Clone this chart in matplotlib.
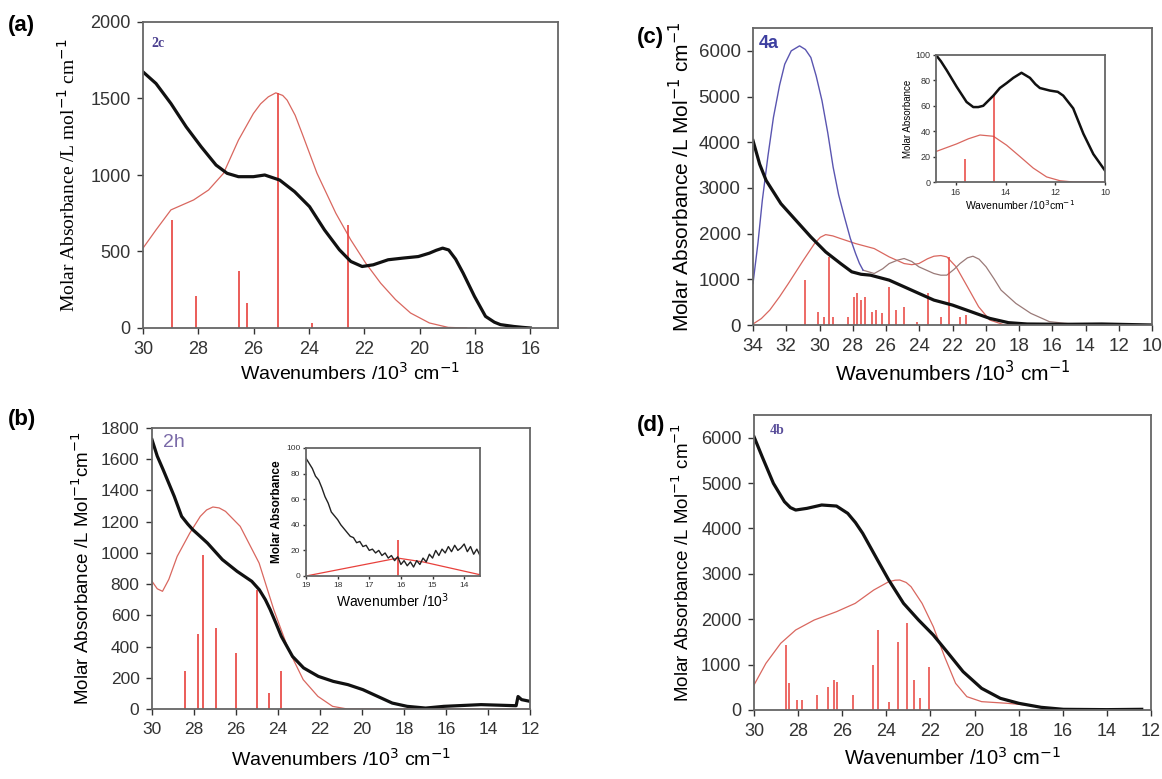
import matplotlib
matplotlib.use("Agg")
import matplotlib.pyplot as plt

plt.rcParams["font.family"] = ["Liberation Sans", "DejaVu Sans"]

W, H = 1162, 779

# ---- panel (a): complex 2c ----
a_black_x = [30, 29.53, 28.99, 28.44, 27.9, 27.36, 26.96, 26.55, 26.01, 25.6, 25.06, 24.52,
             23.98, 23.44, 22.9, 22.49, 22.08, 21.68, 21.14, 20.6, 20.05, 19.65, 19.4,
             19.17, 18.95, 18.7, 18.43, 18.02, 17.62, 17.3, 17.08, 16.6, 16.27, 16.0]
a_black_y = [1674, 1598, 1467, 1315, 1185, 1065, 1011, 989, 989, 1000, 967, 891, 793, 641,
             511, 435, 402, 413, 446, 457, 467, 489, 508, 522, 510, 450, 359, 207, 76,
             38, 22, 10, 4, 0]
a_red_x = [30, 29.53, 28.99, 28.17, 27.63, 27.09, 26.55, 26.01, 25.75, 25.47, 25.2, 24.95,
           24.79, 24.5, 24.25, 23.71, 23.03, 22.49, 21.95, 21.41, 20.87, 20.33, 19.65,
           18.97, 18.3]
a_red_y = [522, 641, 772, 837, 902, 1011, 1228, 1402, 1465, 1511, 1537, 1520, 1489, 1390,
           1272, 1011, 750, 576, 424, 293, 185, 98, 33, 4, 0]
a_stick_x = [28.96, 28.08, 26.52, 26.25, 25.13, 23.9, 22.6]
a_stick_y = [707, 207, 370, 163, 1537, 30, 674]

# ---- panel (b): complex 2h ----
b_black_x = [30, 29.75, 29.47, 28.94, 28.59, 28.3, 28.06, 27.7, 27.36, 26.65, 25.95, 25.25,
             24.89, 24.6, 24.37, 24.1, 23.84, 23.55, 23.31, 22.78, 22.08, 21.37, 20.67,
             19.96, 19.26, 18.56, 17.85, 16.97, 16.1, 14.33, 12.66, 12.57, 12.4, 12.0]
b_black_y = [1725, 1620, 1533, 1362, 1234, 1185, 1149, 1105, 1063, 957, 882, 818, 764, 700,
             636, 550, 465, 395, 337, 263, 209, 177, 156, 124, 81, 38, 17, 6, 17, 28, 21,
             80, 60, 49]
b_red_x = [30, 29.75, 29.5, 29.2, 28.8, 28.2, 27.7, 27.4, 27.1, 26.8, 26.5, 25.8, 24.9,
           24.2, 23.5, 22.8, 22.1, 21.4, 20.7, 12.0]
b_red_y = [818, 770, 754, 830, 978, 1127, 1234, 1275, 1294, 1288, 1266, 1170, 935, 636,
           380, 188, 81, 17, 0, 0]
b_stick_x = [28.42, 27.8, 27.57, 26.95, 26.02, 24.98, 24.42, 23.84]
b_stick_y = [241, 480, 988, 519, 359, 764, 102, 241]

# inset (b)
bi_black_x = [19.0, 18.9, 18.8, 18.7, 18.6, 18.5, 18.4, 18.3, 18.2, 18.1, 18.0, 17.9, 17.8,
              17.7, 17.6, 17.5, 17.4, 17.3, 17.2, 17.1, 17.0, 16.9, 16.8, 16.7, 16.6, 16.5,
              16.4, 16.3, 16.2, 16.1, 16.0, 15.9, 15.8, 15.7, 15.6, 15.5, 15.4, 15.3, 15.2,
              15.1, 15.0, 14.9, 14.8, 14.7, 14.6, 14.5, 14.4, 14.3, 14.2, 14.1, 14.0, 13.9,
              13.8, 13.7, 13.6, 13.5]
bi_black_y = [92, 88, 84, 78, 75, 69, 62, 57, 50, 47, 44, 40, 37, 34, 31, 30, 26, 27, 23,
              24, 20, 21, 18, 20, 16, 18, 14, 16, 12, 15, 9, 12, 8, 11, 7, 12, 9, 14, 11,
              17, 14, 20, 16, 21, 18, 23, 19, 24, 20, 22, 25, 19, 23, 17, 21, 16]
bi_red_x = [19.0, 16.1, 15.3, 13.5]
bi_red_y = [0, 14, 11, 1]
bi_stick_x = [16.1]
bi_stick_y = [28]

# ---- panel (c): complex 4a ----
c_blue_x = [34, 33.7, 33.44, 33.1, 32.77, 32.4, 32.09, 31.7, 31.2, 30.85, 30.52, 30.2,
            29.85, 29.5, 29.18, 28.85, 28.5, 28.15, 27.83, 27.6, 27.38]
c_blue_y = [909, 1800, 2727, 3700, 4545, 5250, 5709, 6000, 6109, 6030, 5854, 5450, 4909,
            4200, 3455, 2850, 2364, 1900, 1564, 1350, 1200]
c_grey_x = [27.38, 26.71, 26.2, 25.81, 25.3, 24.91, 24.45, 24.02, 23.12, 22.7, 22.34, 21.9,
            21.55, 21.1, 20.77, 20.4, 19.98, 19.5, 19.08, 18.19, 17.29, 16.17, 14.83, 10]
c_grey_y = [1200, 1127, 1230, 1345, 1420, 1455, 1390, 1273, 1127, 1090, 1091, 1220, 1345,
            1470, 1505, 1440, 1273, 1010, 764, 473, 255, 73, 22, 0]
c_red_x = [34, 33.5, 32.99, 32.4, 31.87, 30.97, 30.3, 29.95, 29.63, 29.2, 28.73, 27.83,
           26.71, 25.81, 24.91, 24.45, 24.02, 23.5, 23.12, 22.7, 22.34, 21.78, 21.1, 20.43,
           19.76, 18.86, 10]
c_red_y = [22, 140, 327, 620, 909, 1418, 1782, 1920, 1978, 1950, 1891, 1782, 1673, 1491,
           1345, 1320, 1345, 1450, 1505, 1520, 1491, 1273, 836, 400, 109, 0, 0]
c_black_x = [34, 33.6, 33.21, 32.32, 31.42, 30.52, 29.63, 28.73, 28.06, 27.5, 26.94, 25.81,
             24.91, 24.02, 23.12, 22.0, 20.88, 19.76, 18.63, 17.51, 15.27, 13.03, 10]
c_black_y = [4036, 3520, 3164, 2655, 2291, 1927, 1600, 1345, 1164, 1110, 1091, 982, 836,
             691, 545, 436, 291, 145, 51, 22, 15, 22, 0]
c_stick_x = [30.86, 30.07, 29.74, 29.45, 29.18, 28.28, 27.94, 27.72, 27.49, 27.27, 26.82,
             26.6, 26.26, 25.81, 25.41, 24.91, 24.13, 23.46, 22.72, 22.22, 21.55, 21.21]
c_stick_y = [982, 291, 182, 1491, 182, 182, 618, 691, 545, 618, 291, 327, 255, 836, 327,
             400, 73, 691, 182, 1491, 182, 218]

# inset (c)
ci_black_x = [16.8, 16.6, 16.37, 15.97, 15.57, 15.3, 15.1, 14.9, 14.49, 14.23, 13.95, 13.69,
              13.36, 13.02, 12.8, 12.62, 12.22, 11.9, 11.68, 11.28, 10.87, 10.47, 10.0]
ci_black_y = [100, 95, 88, 75, 63, 59, 59, 60, 68, 74, 78, 82, 86, 82, 77, 74, 72, 71, 68,
              58, 38, 22, 9]
ci_red_x = [16.8, 15.97, 15.5, 15.03, 14.49, 13.96, 13.42, 12.89, 12.35, 11.81, 11.28, 10.0]
ci_red_y = [24, 30, 34, 37, 36, 29, 20, 11, 4, 1, 0, 0]
ci_stick_x = [15.63, 14.45]
ci_stick_y = [18, 69]

# ---- panel (d): complex 4b ----
d_black_x = [30, 29.63, 29.12, 28.62, 28.35, 28.11, 27.6, 26.93, 26.26, 25.75, 25.4, 25.07,
             24.4, 23.89, 23.22, 22.54, 21.87, 21.19, 20.52, 19.68, 18.83, 17.99, 16.98,
             15.97, 14.0, 12.42]
d_black_y = [6022, 5581, 4994, 4590, 4460, 4406, 4443, 4517, 4494, 4333, 4130, 3892, 3305,
             2864, 2350, 1983, 1652, 1248, 845, 477, 257, 147, 59, 15, 8, 15]
d_red_x = [30, 29.46, 28.79, 28.11, 27.27, 26.26, 25.41, 24.57, 23.89, 23.6, 23.39, 23.1,
           22.88, 22.38, 21.87, 21.36, 20.86, 20.35, 19.68, 18.5, 17.65, 16.64, 15.9, 12.4]
d_red_y = [551, 1028, 1469, 1763, 1983, 2166, 2350, 2644, 2827, 2860, 2864, 2810, 2717,
           2350, 1836, 1175, 588, 294, 184, 147, 110, 37, 0, 0]
d_stick_x = [28.57, 28.4, 28.06, 27.81, 27.15, 26.63, 26.37, 26.22, 25.53, 24.62, 24.4,
             23.89, 23.47, 23.05, 22.76, 22.49, 22.07]
d_stick_y = [1432, 588, 220, 220, 330, 514, 661, 624, 330, 991, 1763, 184, 1506, 1909, 661,
             257, 955]

RED = "#e8413c"
ENV = "#d9675f"
BLK = "#111111"
SPINE = "#666666"


def box(l, t, r, b):
    return [l / W, 1 - b / H, (r - l) / W, (b - t) / H]


def style(ax, fs=12.5):
    for s in ax.spines.values():
        s.set_color(SPINE)
        s.set_linewidth(1.3)
    ax.tick_params(direction="out", length=4, width=1, colors="#333333",
                   labelsize=fs, pad=5)


fig = plt.figure(figsize=(W / 100, H / 100), dpi=100)

# (a)
ax = fig.add_axes(box(143, 22, 558, 328))
ax.plot(a_red_x, a_red_y, color=ENV, lw=0.9)
ax.vlines(a_stick_x, 0, a_stick_y, color=RED, lw=1.2)
ax.plot(a_black_x, a_black_y, color=BLK, lw=2.3)
ax.set_xlim(30, 15)
ax.set_ylim(0, 2000)
ax.set_xticks([30, 28, 26, 24, 22, 20, 18, 16])
ax.set_yticks([0, 500, 1000, 1500, 2000])
style(ax, 13)
ax.set_xlabel("Wavenumbers /10$^3$ cm$^{-1}$", fontsize=14, labelpad=3)
ax.set_ylabel("Molar Absorbance /L mol$^{-1}$ cm$^{-1}$", fontsize=14,
              family="Liberation Serif", labelpad=8)
ax.text(0.02, 0.95, "2c", transform=ax.transAxes, color="#4b3f8f",
        fontsize=10, fontweight="bold", family="Liberation Serif", va="top")
fig.text(8 / W, 1 - 25 / H, "(a)", fontsize=16, fontweight="bold", va="center")

# (b)
ax = fig.add_axes(box(152, 428, 530, 709))
ax.plot(b_red_x, b_red_y, color=ENV, lw=0.9)
ax.vlines(b_stick_x, 0, b_stick_y, color=RED, lw=1.2)
ax.plot(b_black_x, b_black_y, color=BLK, lw=2.3)
ax.set_xlim(30, 12)
ax.set_ylim(0, 1800)
ax.set_xticks([30, 28, 26, 24, 22, 20, 18, 16, 14, 12])
ax.set_yticks(list(range(0, 1801, 200)))
style(ax, 12.5)
ax.set_xlabel("Wavenumbers /10$^3$ cm$^{-1}$", fontsize=14, labelpad=8)
ax.set_ylabel("Molar Absorbance /L Mol$^{-1}$cm$^{-1}$", fontsize=13.5, labelpad=6)
ax.text(0.03, 0.98, "2h", transform=ax.transAxes, color="#7a6aa8",
        fontsize=14, va="top")
fig.text(8 / W, 1 - 420 / H, "(b)", fontsize=16, fontweight="bold", va="center")

axi = fig.add_axes(box(306, 448, 480, 576))
axi.plot(bi_red_x, bi_red_y, color=RED, lw=0.9)
axi.vlines(bi_stick_x, 0, bi_stick_y, color=RED, lw=1.2)
axi.plot(bi_black_x, bi_black_y, color="#222222", lw=1.0)
axi.set_xlim(19, 13.5)
axi.set_ylim(0, 100)
axi.set_xticks([19, 18, 17, 16, 15, 14])
axi.set_yticks([0, 20, 40, 60, 80, 100])
style(axi, 6)
axi.tick_params(length=2, pad=2)
axi.set_xlabel("Wavenumber /10$^3$", fontsize=10, labelpad=2)
axi.set_ylabel("Molar Absorbance", fontsize=8.5, fontweight="bold", labelpad=2)

# (c)
ax = fig.add_axes(box(753, 28, 1152, 325))
ax.plot(c_red_x, c_red_y, color=ENV, lw=0.9)
ax.plot(c_grey_x, c_grey_y, color="#9a7a78", lw=0.9)
ax.plot(c_blue_x, c_blue_y, color="#5a55b0", lw=1.0)
ax.vlines(c_stick_x, 0, c_stick_y, color=RED, lw=1.1)
ax.plot(c_black_x, c_black_y, color=BLK, lw=2.3)
ax.set_xlim(34, 10)
ax.set_ylim(0, 6500)
ax.set_xticks(list(range(34, 9, -2)))
ax.set_yticks(list(range(0, 6001, 1000)))
style(ax, 13.5)
ax.set_xlabel("Wavenumbers /10$^3$ cm$^{-1}$", fontsize=15, labelpad=4)
ax.set_ylabel("Molar Absorbance /L Mol$^{-1}$ cm$^{-1}$", fontsize=15, labelpad=4)
ax.text(0.015, 0.975, "4a", transform=ax.transAxes, color="#3d3fa0",
        fontsize=13, fontweight="bold", va="top")
fig.text(637 / W, 1 - 37 / H, "(c)", fontsize=16, fontweight="bold", va="center")

axi = fig.add_axes(box(936, 55, 1105, 182))
axi.plot(ci_red_x, ci_red_y, color=ENV, lw=0.9)
axi.vlines(ci_stick_x, 0, ci_stick_y, color=RED, lw=1.1)
axi.plot(ci_black_x, ci_black_y, color=BLK, lw=1.8)
axi.set_xlim(16.8, 10)
axi.set_ylim(0, 100)
axi.set_xticks([16, 14, 12, 10])
axi.set_yticks([0, 20, 40, 60, 80, 100])
style(axi, 6.5)
axi.tick_params(length=2, pad=2)
axi.set_xlabel("Wavenumber /10$^3$cm$^{-1}$", fontsize=7.5, labelpad=1)
axi.set_ylabel("Molar Absorbance", fontsize=7, labelpad=2)

# (d)
ax = fig.add_axes(box(754, 415, 1151, 710))
ax.plot(d_red_x, d_red_y, color=ENV, lw=0.9)
ax.vlines(d_stick_x, 0, d_stick_y, color=RED, lw=1.1)
ax.plot(d_black_x, d_black_y, color=BLK, lw=2.3)
ax.set_xlim(30, 12)
ax.set_ylim(0, 6500)
ax.set_xticks([30, 28, 26, 24, 22, 20, 18, 16, 14, 12])
ax.set_yticks(list(range(0, 6001, 1000)))
style(ax, 13)
ax.set_xlabel("Wavenumber /10$^3$ cm$^{-1}$", fontsize=14.5, labelpad=5)
ax.set_ylabel("Molar Absorbance /L Mol$^{-1}$ cm$^{-1}$", fontsize=13.5, labelpad=6)
ax.text(0.04, 0.97, "4b", transform=ax.transAxes, color="#5a4f9a",
        fontsize=10, fontweight="bold", family="Liberation Serif", va="top")
fig.text(637 / W, 1 - 425 / H, "(d)", fontsize=16, fontweight="bold", va="center")

fig.savefig("out.png", dpi=100)
